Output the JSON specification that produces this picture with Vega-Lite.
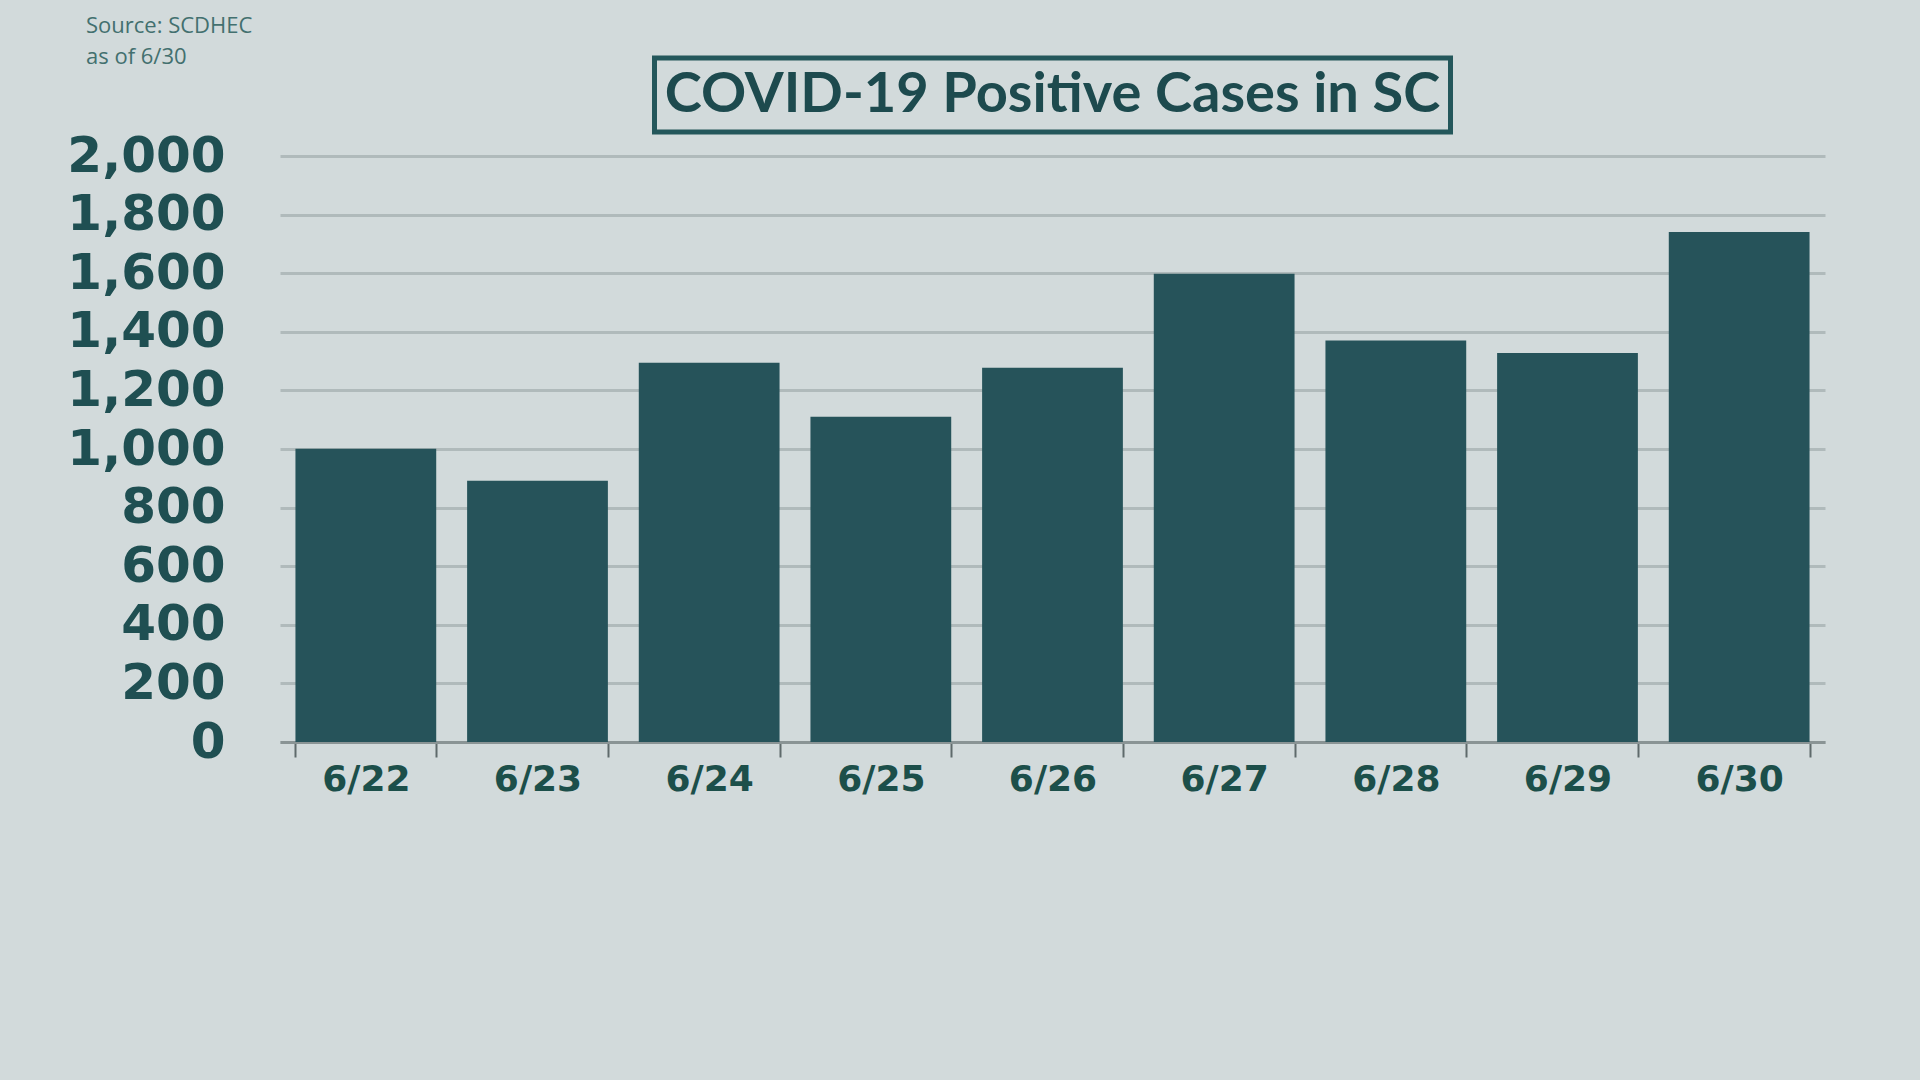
{
  "$schema": "https://vega.github.io/schema/vega-lite/v6.json",
  "background": "#d2dadb",
  "padding": {"left": 66, "top": 14, "right": 101, "bottom": 286},
  "bounds": "flush",
  "center": true,
  "spacing": 24,
  "title": {
    "text": "Source: SCDHEC",
    "subtitle": "as of 6/30",
    "anchor": "start",
    "frame": "group",
    "dx": -194,
    "offset": -13,
    "font": "Open Sans",
    "fontSize": 22,
    "fontWeight": "normal",
    "color": "#43706f",
    "subtitleFont": "Open Sans",
    "subtitleFontSize": 22,
    "subtitleColor": "#43706f",
    "subtitlePadding": 9
  },
  "vconcat": [
    {
      "width": 796,
      "height": 74,
      "view": {"stroke": "#24575b", "strokeWidth": 5, "fill": null},
      "data": {"values": [{"t": "COVID-19 Positive Cases in SC"}]},
      "mark": {"type": "text", "font": "Lato", "fontSize": 56, "fontWeight": "bold", "color": "#1d4a4e", "baseline": "middle", "align": "center"},
      "encoding": {"text": {"field": "t", "type": "nominal"}}
    },
    {
      "width": 1545,
      "height": 586,
      "data": {
        "values": [
          {"date": "6/22", "cases": 1001},
          {"date": "6/23", "cases": 892},
          {"date": "6/24", "cases": 1294},
          {"date": "6/25", "cases": 1110},
          {"date": "6/26", "cases": 1277},
          {"date": "6/27", "cases": 1598},
          {"date": "6/28", "cases": 1370},
          {"date": "6/29", "cases": 1328},
          {"date": "6/30", "cases": 1741}
        ]
      },
      "mark": {"type": "bar", "color": "#26535a"},
      "encoding": {
        "x": {
          "field": "date",
          "type": "ordinal",
          "sort": null,
          "scale": {"paddingInner": 0.18, "paddingOuter": 0.09},
          "axis": {
            "title": null,
            "labelAngle": 0,
            "labelFont": "DejaVu Sans",
            "labelFontWeight": "bold",
            "labelFontSize": 36,
            "labelColor": "#1c4f4a",
            "labelPadding": 5,
            "tickBand": "extent",
            "tickSize": 15,
            "tickWidth": 2,
            "tickColor": "#5f6a6b",
            "domainColor": "#8a9495",
            "domainWidth": 3,
            "grid": false
          }
        },
        "y": {
          "field": "cases",
          "type": "quantitative",
          "scale": {"domain": [0, 2000], "nice": false},
          "axis": {
            "title": null,
            "values": [0, 200, 400, 600, 800, 1000, 1200, 1400, 1600, 1800, 2000],
            "labelFont": "DejaVu Sans",
            "labelFontWeight": "bold",
            "labelFontSize": 50,
            "labelColor": "#1f4f52",
            "labelPadding": 55,
            "ticks": false,
            "domain": false,
            "grid": true,
            "gridColor": "#b0babb",
            "gridWidth": 3,
            "gridOpacity": 1
          }
        }
      }
    }
  ],
  "config": {
    "view": {"stroke": null}
  }
}
